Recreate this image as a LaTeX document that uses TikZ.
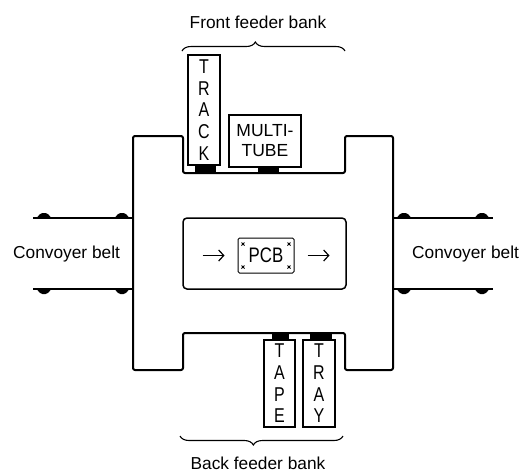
\documentclass[tikz,border=0pt]{standalone}
\usepackage{fontspec}
\setmainfont{Liberation Sans}
\newfontfamily\narrowf{Liberation Sans}[FakeStretch=0.8]
\usetikzlibrary{decorations.pathreplacing,arrows.meta}
\begin{document}
\begin{tikzpicture}[x=1pt,y=-1pt,
  lbl/.style={font=\fontsize{17.3}{20}\selectfont, inner sep=0pt},
  feeder/.style={draw, line width=1.8pt, inner sep=0pt, align=center,
    font=\narrowf\fontsize{20}{21.7}\selectfont},
  foot/.style={fill=black},
  belt/.style={line width=1.2pt},
  bump/.style={fill=black, rounded corners=1.5pt},
  wall/.style={line width=2pt, rounded corners=2pt, line join=round},
  brc/.style={decorate, decoration={brace, amplitude=9pt, aspect=0.45}, line width=1.1pt},
  arr/.style={line width=1.2pt, -{Straight Barb[length=5pt,width=11pt]}},
  xmark/.style={line width=0.8pt}
]
\useasboundingbox (0,0) rectangle (520,475);
\fill[white] (0,0) rectangle (520,475);

% machine outline
\draw[wall] (133,136) -- (183,136) -- (183,173) -- (345,173) -- (345,136)
  -- (393,136) -- (393,370) -- (345,370) -- (345,333) -- (183,333)
  -- (183,370) -- (133,370) -- cycle;

% conveyor belts
\foreach \xa/\xb in {33/133, 393/493}{
  \draw[belt] (\xa,218) -- (\xb,218);
  \draw[belt] (\xa,289) -- (\xb,289);
}
\foreach \c in {44,122,404,482}{
  \fill[bump] (\c-8,218.5) -- (\c-3,213) -- (\c+3,213) -- (\c+8,218.5) -- cycle;
  \fill[bump] (\c-8,288.5) -- (\c-3,294) -- (\c+3,294) -- (\c+8,288.5) -- cycle;
}
\node[lbl, anchor=west] (beltL) at (13,254) {Convoyer belt};
\node[lbl, anchor=west] (beltR) at (412,254) {Convoyer belt};

% inner conveyor box
\node[draw, line width=1.5pt, rounded corners=4pt, minimum width=163pt,
  minimum height=71pt, inner sep=0pt] (conv) at (264.5,253.5) {};
\node[draw, line width=1pt, rounded corners=1.5pt, minimum width=56pt,
  minimum height=35pt, inner sep=0pt,
  font=\narrowf\fontsize{21}{24}\selectfont] (pcb) at (266,255.5) {PCB};
\foreach \px/\py in {243/244, 289/244, 243/267, 289/267}{
  \draw[xmark] (\px-1.5,\py-1.5) -- (\px+1.5,\py+1.5);
  \draw[xmark] (\px-1.5,\py+1.5) -- (\px+1.5,\py-1.5);
}
\draw[arr] ([xshift=-35pt]pcb.west) -- ([xshift=-13pt]pcb.west);
\draw[arr] ([xshift=13pt]pcb.east) -- ([xshift=35pt]pcb.east);

% front feeders
\node[feeder, minimum width=32pt, minimum height=110pt] (track) at (204,110)
  {T\\R\\A\\C\\K};
\node[feeder, minimum width=72pt, minimum height=52pt,
  font=\fontsize{17.5}{20}\selectfont] (multi) at (265,141) {MULTI-\\TUBE};
\fill[foot] (195,165) rectangle (216,173);
\fill[foot] (258,167) rectangle (279,173);

% back feeders
\node[feeder, minimum width=31pt, minimum height=87pt] (tape) at (279.5,383.5)
  {T\\A\\P\\E};
\node[feeder, minimum width=32pt, minimum height=87pt] (tray) at (319,383.5)
  {T\\R\\A\\Y};
\fill[foot] (272,333) rectangle (289,340);
\fill[foot] (310,333) rectangle (332,340);

% braces and bank labels
\draw[brc] (182,51) -- (345,51);
\draw[brc, decoration={mirror}] (180,436) -- (343,436);
\node[lbl] (front) at (258,22) {Front feeder bank};
\node[lbl] (back) at (258,463) {Back feeder bank};
\end{tikzpicture}
\end{document}
